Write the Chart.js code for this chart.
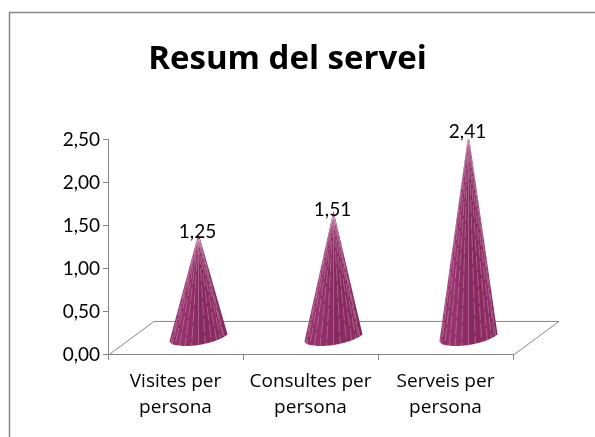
<!DOCTYPE html>
<html><head><meta charset="utf-8">
<style>html,body{margin:0;padding:0;background:#fff}#w{position:relative;width:595px;height:437px}</style>
<script src="https://cdn.jsdelivr.net/npm/chart.js@4"></script>
</head><body><div id="w"><canvas id="c" width="595" height="437"></canvas></div>
<script>
const categories = [["Visites per","persona"],["Consultes per","persona"],["Serveis per","persona"]];
const values = [1.25,1.51,2.41];
const chartTitle = "Resum del servei";
const fmt = v => Number(v).toFixed(2).replace('.',',');
const FONT = 'Lato, "Open Sans", sans-serif';
const WIDE = '"Open Sans", Lato, sans-serif';
const DX = 46, DY = 34;

Chart.BarElement.prototype.draw = function(ctx){
  const {x,y,base,width} = this.getProps(['x','y','base','width']);
  const cx = x + DX/2, h = width/2;
  const apexY = y - 14;
  const lx = cx-h, ly = base-13, rx = cx+h, ry = base-20;
  ctx.save();
  ctx.beginPath();
  ctx.moveTo(cx, apexY);
  ctx.lineTo(rx, ry);
  ctx.bezierCurveTo(rx-12, base-11, cx-6, base-7, lx+10, base-9);
  ctx.quadraticCurveTo(lx+2, base-9, lx, ly);
  ctx.closePath();
  ctx.clip();
  const g = ctx.createLinearGradient(lx,0,rx,0);
  g.addColorStop(0,'#8f2f66'); g.addColorStop(0.25,'#96336c');
  g.addColorStop(0.55,'#86295e'); g.addColorStop(0.85,'#8c2d63'); g.addColorStop(1,'#7d2558');
  ctx.fillStyle = g;
  ctx.fillRect(lx-2,apexY-2,width+4,base-apexY+4);
  const t = ctx.createLinearGradient(0,apexY,0,apexY+16);
  t.addColorStop(0,'rgba(210,150,185,.4)'); t.addColorStop(1,'rgba(210,150,185,0)');
  ctx.fillStyle = t;
  ctx.fillRect(lx-2,apexY-2,width+4,18);
  ctx.strokeStyle = 'rgba(232,190,215,.36)';
  ctx.lineWidth = 1;
  const n = 6;
  for(let i=-n;i<=n;i++){
    const bx = cx + Math.sin(i/(n+.4)*Math.PI/2)*h;
    ctx.setLineDash(i===0?[]:[14,3]);
    ctx.lineDashOffset = (i+n)*5;
    ctx.beginPath();
    ctx.moveTo(bx, base-6);
    ctx.lineTo(cx + (bx-cx)*0.04, apexY+6);
    ctx.stroke();
  }
  ctx.restore();
};

const floorPlugin = {
  id:'floor',
  beforeDatasetsDraw(chart){
    const {ctx,chartArea:a} = chart;
    ctx.save();
    ctx.strokeStyle = '#868686'; ctx.lineWidth = 1;
    ctx.beginPath();
    ctx.moveTo(a.left,a.bottom+.5); ctx.lineTo(a.left+DX,a.bottom-DY+.5);
    ctx.lineTo(a.right+DX,a.bottom-DY+.5); ctx.lineTo(a.right,a.bottom+.5);
    ctx.stroke();
    ctx.restore();
  }
};
const labelPlugin = {
  id:'vlabels',
  afterDatasetsDraw(chart){
    const {ctx} = chart;
    ctx.save();
    ctx.fillStyle = '#000';
    ctx.font = '19px '+FONT;
    ctx.textAlign='center'; ctx.textBaseline='middle';
    chart.getDatasetMeta(0).data.forEach((el,i)=>{
      ctx.fillText(fmt(values[i]), el.x+DX/2-1, el.y-15);
    });
    ctx.restore();
  }
};
const framePlugin = {
  id:'frame',
  beforeDraw(chart){
    const {ctx} = chart;
    ctx.save();
    ctx.strokeStyle='#868686'; ctx.lineWidth=1.5;
    ctx.beginPath();
    ctx.moveTo(9.5,437); ctx.lineTo(9.5,12.5); ctx.lineTo(595,12.5);
    ctx.stroke();
    ctx.restore();
  }
};
new Chart(document.getElementById('c'),{
  type:'bar',
  data:{labels:categories,datasets:[{data:values,backgroundColor:'#8b2c62',barPercentage:0.43,categoryPercentage:1}]},
  plugins:[framePlugin,floorPlugin,labelPlugin],
  options:{
    responsive:false,animation:false,
    layout:{padding:{left:62,right:82,top:0,bottom:7}},
    plugins:{
      legend:{display:false},tooltip:{enabled:false},
      title:{display:true,text:chartTitle,color:'#000',font:{family:WIDE,size:33,weight:'bold'},padding:{top:40,bottom:60}}
    },
    scales:{
      x:{grid:{drawOnChartArea:false,color:'#868686',tickLength:5},border:{color:'#868686'},
         ticks:{color:'#000',font:{family:WIDE,size:19,lineHeight:1.37},padding:9,maxRotation:0,autoSkip:false}},
      y:{min:0,max:2.5,afterFit(s){s.width=46;},
         grid:{drawOnChartArea:false,color:'#868686',tickLength:5},border:{color:'#868686'},
         ticks:{stepSize:0.5,color:'#000',font:{family:FONT,size:19},padding:3,callback:v=>fmt(v)}}
    }
  }
});
</script></body></html>
